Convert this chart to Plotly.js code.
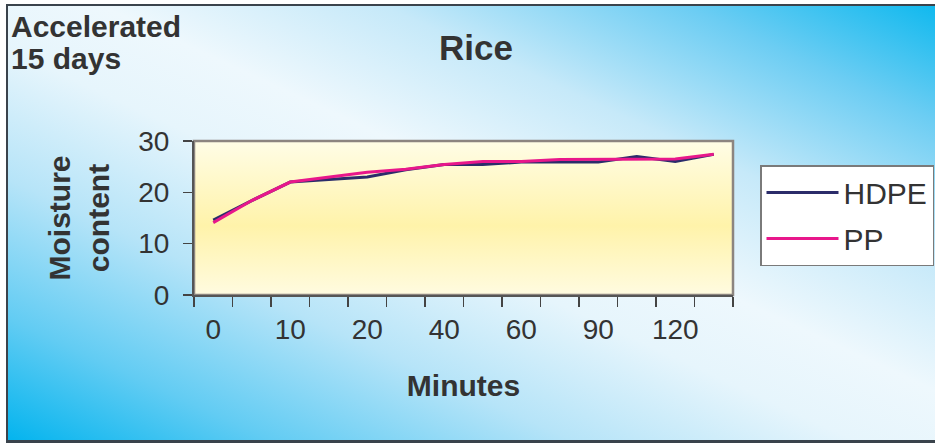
<!DOCTYPE html>
<html>
<head>
<meta charset="utf-8">
<script src="https://cdn.plot.ly/plotly-3.0.1.min.js"></script>
<style>
  html, body { margin: 0; padding: 0; width: 935px; height: 443px; overflow: hidden; background: #ffffff; }
  #frame {
    position: absolute; left: 6px; top: 4px; width: 940px; height: 434px;
    border-left: 2px solid #3a434c; border-top: 2px solid #3a434c; border-bottom: 3px solid #3a434c;
    background: linear-gradient(to top right, #04b4ee 0%, #62ccf3 14%, #b6e4f8 30%, #e6f5fc 45%, #eef8fd 55%, #c6e9f9 70%, #6ccdf3 86%, #0cb8ee 100%);
  }
  #chart { position: absolute; left: 0; top: 0; width: 935px; height: 443px; }
</style>
</head>
<body>
<div id="frame"></div>
<div id="chart"></div>
<script>
// ---- data ----
const categories = ['0', '5', '10', '15', '20', '30', '40', '50', '60', '75', '90', '105', '120', '135'];
const tickLabels = ['0', '', '10', '', '20', '', '40', '', '60', '', '90', '', '120', ''];
const hdpe = [14.6, 18.4, 22.0, 22.5, 23.0, 24.4, 25.4, 25.4, 25.9, 25.9, 25.9, 27.0, 26.0, 27.4];
const pp   = [14.1, 18.4, 22.0, 23.0, 23.9, 24.5, 25.4, 26.0, 26.0, 26.4, 26.4, 26.5, 26.5, 27.4];
const yTicks = [0, 10, 20, 30];

// ---- layout geometry (pixels) ----
const W = 935, H = 443;
const PL = 194, PR = 733, PT = 141, PB = 295;
const px2x = x => (x - PL) / (PR - PL);
const px2y = y => (PB - y) / (PB - PT);

const txt = '#333333';
const fam = '"Liberation Sans", Arial, sans-serif';

const gradSvg = '<svg xmlns="http://www.w3.org/2000/svg" width="100" height="100" preserveAspectRatio="none" viewBox="0 0 100 100">' +
  '<defs><linearGradient id="g" x1="0" y1="0" x2="0" y2="1">' +
  '<stop offset="0" stop-color="#fffde6"/>' +
  '<stop offset="0.55" stop-color="#fff3aa"/>' +
  '<stop offset="1" stop-color="#fffbe0"/>' +
  '</linearGradient></defs><rect x="0" y="0" width="100" height="100" fill="url(#g)"/></svg>';

const traces = [
  { x: categories, y: hdpe, name: 'HDPE', type: 'scatter', mode: 'lines',
    line: { color: '#2b2c6a', width: 3 }, legendgroup: 'a' },
  { x: categories, y: pp, name: 'PP', type: 'scatter', mode: 'lines',
    line: { color: '#e8178b', width: 3 }, legendgroup: 'b' }
];

const layout = {
  width: W, height: H,
  margin: { l: PL, r: W - PR, t: PT, b: H - PB, pad: 0, autoexpand: false },
  paper_bgcolor: 'rgba(0,0,0,0)',
  plot_bgcolor: 'rgba(0,0,0,0)',
  font: { family: fam, color: txt },
  title: { text: 'Rice', font: { size: 35, weight: 700, color: txt, family: fam },
           xref: 'container', yref: 'container', x: 476 / W, xanchor: 'center',
           y: 1 - 48 / H, yanchor: 'middle' },
  xaxis: {
    type: 'category', tickvals: categories, ticktext: tickLabels, range: [-0.5, categories.length - 0.5],
    tickson: 'boundaries', ticks: 'outside', ticklen: 10, tickwidth: 1.5, tickcolor: '#444',
    tickangle: 0, automargin: false,
    showline: true, linecolor: '#555', linewidth: 2, showgrid: false, zeroline: false,
    tickfont: { size: 28, color: txt }, ticklabelstandoff: 8,
    title: { text: 'Minutes', font: { size: 30, weight: 700, color: txt }, standoff: 31 }
  },
  yaxis: {
    range: [0, 30], tickvals: yTicks, ticks: 'outside', ticklen: 9, tickwidth: 1.5, tickcolor: '#444',
    showline: true, linecolor: '#555', linewidth: 2, showgrid: false, zeroline: false, automargin: false,
    tickfont: { size: 28, color: txt }, ticklabelstandoff: 8,
    title: { text: 'Moisture<br>content', font: { size: 30, weight: 700, color: txt }, standoff: 20 }
  },
  legend: {
    x: px2x(760), y: px2y(165), xanchor: 'left', yanchor: 'top',
    bgcolor: '#ffffff', bordercolor: '#7a7a7a', borderwidth: 1.5,
    font: { size: 30, color: txt }, tracegroupgap: 4, itemwidth: 72
  },
  images: [{
    source: 'data:image/svg+xml;charset=utf-8,' + encodeURIComponent(gradSvg),
    xref: 'paper', yref: 'paper', x: 0, y: 1, sizex: 1, sizey: 1,
    xanchor: 'left', yanchor: 'top', sizing: 'stretch', layer: 'below'
  }],
  shapes: [{
    type: 'rect', xref: 'paper', yref: 'paper', x0: 0, x1: 1, y0: 0, y1: 1,
    line: { color: '#8c8580', width: 2.5 }, fillcolor: 'rgba(0,0,0,0)', layer: 'below'
  }],
  annotations: [
    { text: 'Accelerated', xref: 'paper', yref: 'paper', x: px2x(9), y: px2y(26),
      xanchor: 'left', yanchor: 'middle', showarrow: false,
      font: { size: 30, weight: 700, color: txt } },
    { text: '15 days', xref: 'paper', yref: 'paper', x: px2x(9), y: px2y(58),
      xanchor: 'left', yanchor: 'middle', showarrow: false,
      font: { size: 30, weight: 700, color: txt } }
  ]
};

Plotly.newPlot('chart', traces, layout, { displayModeBar: false, staticPlot: true });
</script>
</body>
</html>
